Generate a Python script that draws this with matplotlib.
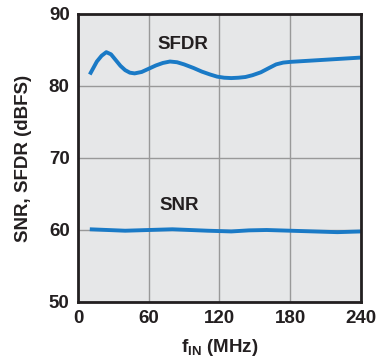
import matplotlib.pyplot as plt

# values
sfdr_f = [10, 13, 16, 20, 24, 28, 32, 36, 40, 44, 48, 54, 60, 66, 72, 78, 84, 90, 98, 105,
          112, 118, 124, 130, 136, 142, 148, 155, 162, 168, 174, 180, 190, 200, 210, 220, 230, 240]
sfdr_db = [81.6, 82.5, 83.4, 84.2, 84.7, 84.4, 83.6, 82.8, 82.2, 81.85, 81.75, 81.95, 82.4, 82.85, 83.2, 83.4,
           83.3, 83.0, 82.5, 82.0, 81.6, 81.3, 81.15, 81.1, 81.15, 81.25, 81.5, 81.9, 82.5, 83.0, 83.25, 83.35,
           83.45, 83.55, 83.65, 83.75, 83.85, 83.95]
snr_f = [10, 25, 40, 60, 80, 95, 110, 130, 145, 160, 180, 200, 220, 240]
snr_db = [60.1, 60.0, 59.9, 60.0, 60.1, 60.0, 59.9, 59.8, 59.95, 60.0, 59.9, 59.8, 59.7, 59.8]

xticks = [0, 60, 120, 180, 240]
yticks = [50, 60, 70, 80, 90]

plt.rcParams['font.family'] = ['Liberation Sans', 'DejaVu Sans']
plt.rcParams['font.weight'] = 'bold'
plt.rcParams['mathtext.fontset'] = 'custom'
plt.rcParams['mathtext.rm'] = 'Liberation Sans:bold'
plt.rcParams['mathtext.bf'] = 'Liberation Sans:bold'

ink = '#231f20'
fig = plt.figure(figsize=(3.76, 3.58), dpi=100)
ax = fig.add_axes([78 / 376, 1 - 302 / 358, 283 / 376, 288 / 358])
ax.set_facecolor('#e6e7e8')

blue = '#1a7ac6'
ax.plot(sfdr_f, sfdr_db, color=blue, lw=2.8, solid_capstyle='butt', solid_joinstyle='round')
ax.plot(snr_f, snr_db, color=blue, lw=2.8, solid_capstyle='butt', solid_joinstyle='round')

ax.set_xlim(0, 240)
ax.set_ylim(50, 90)
ax.set_xticks(xticks)
ax.set_yticks(yticks)
ax.grid(True, color='#999999', lw=1)
ax.tick_params(length=0, labelsize=13.5, pad=6, labelcolor=ink)
for lab in ax.get_xticklabels() + ax.get_yticklabels():
    lab.set_fontweight('bold')
for s in ax.spines.values():
    s.set_linewidth(2)
    s.set_color(ink)

ax.text(89, 85.7, 'SFDR', ha='center', va='center', fontsize=13.5, fontweight='bold', color=ink)
ax.text(86, 63.4, 'SNR', ha='center', va='center', fontsize=13.5, fontweight='bold', color=ink)

ax.set_xlabel('f$_{\\mathbf{IN}}$ (MHz)', fontsize=13.5, fontweight='bold', labelpad=7, color=ink)
ax.set_ylabel('SNR, SFDR (dBFS)', fontsize=13.5, fontweight='bold', labelpad=12, color=ink)

fig.savefig('out.png', dpi=100)
